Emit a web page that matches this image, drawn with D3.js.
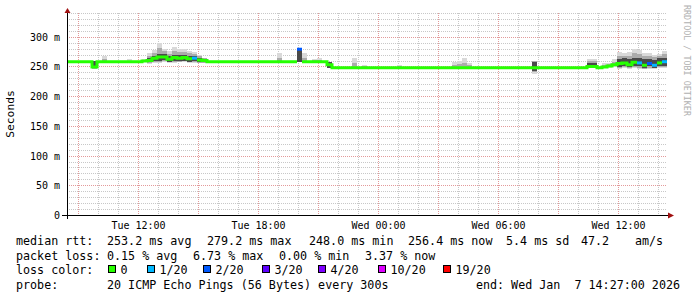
<!DOCTYPE html>
<html><head><meta charset="utf-8">
<script src="https://cdn.jsdelivr.net/npm/d3@7/dist/d3.min.js"></script>
<style>
body{margin:0;background:#fff}
svg{display:block}
text{font-family:"DejaVu Sans Mono",monospace}
</style>
</head><body>
<svg id="chart" width="697" height="297"></svg>
<script>
// ---- data (15-minute bins, starting Tue Jan 6 2026 08:27) ----
const startTime = "2026-01-06T08:27:00Z";
const stepMinutes = 15;

const median = [
  258,258,258,258,258,249,258,258,258,258,
  258,258,258,258,258,259,260,264,266,266,
  262,265,264,265,263,264,261,260,258,258,
  258,258,258,258,258,258,258,258,258,258,
  258,258,258,258,258,258,279,258,258,258,
  258,258,253,248,248,248,248,248,248,248,
  248,248,248,248,248,248,248,248,248,248,
  248,248,248,248,248,248,248,248,248,248,
  248,248,248,248,248,248,248,248,248,248,
  248,248,248,248,248,248,248,248,248,248,
  248,248,248,248,250,250,248,249,251,253,
  255,256,253,257,256,252,255,252,256,258
];
const lossCount = [
  0,0,0,0,0,0,0,0,0,0,
  0,0,0,0,0,0,0,0,0,0,
  0,0,0,0,0,1,0,0,0,0,
  0,0,0,0,0,0,0,0,0,0,
  0,0,0,0,0,0,2,0,0,0,
  0,0,0,0,0,0,0,0,0,0,
  0,0,0,0,0,0,0,0,0,0,
  0,0,0,0,0,0,0,0,0,0,
  0,0,0,0,0,0,0,0,0,0,
  0,0,0,0,0,0,0,0,0,0,
  0,0,0,0,0,0,0,0,0,0,
  0,0,0,0,1,0,2,1,0,1
];
const smokeMax = [
  260,258,258,258,258,259,258,267,258,258,
  258,258,262,258,258,262,272,278,290,280,
  276,282,279,280,276,275,270,265,260,258,
  258,258,258,258,258,258,258,258,258,258,
  258,258,272,260,258,258,281,272,258,263,
  264,258,258,248,248,248,248,264,248,252,
  248,248,248,248,248,248,252,248,248,248,
  248,248,248,248,248,248,248,258,260,264,
  256,248,248,248,248,248,248,248,248,248,
  248,248,248,260,248,248,248,248,248,248,
  248,248,248,248,262,262,250,256,256,262,
  274,272,274,280,278,272,273,270,271,276
];
const smokeMin = [
  258,258,258,258,258,246,258,258,258,258,
  258,258,258,258,258,257,255,256,256,257,
  256,256,257,257,256,256,256,256,258,258,
  258,258,258,258,258,258,258,258,258,258,
  258,258,258,258,258,258,257,258,258,258,
  258,258,248,248,248,248,248,248,248,248,
  248,248,248,248,248,248,248,248,248,248,
  248,248,248,248,248,248,248,248,248,248,
  248,248,248,248,248,248,248,248,248,248,
  248,248,248,238,248,248,248,248,248,248,
  248,248,248,248,247,247,248,248,248,249,
  246,247,246,247,246,245,246,246,247,247
];
const coreMax = [
  258,258,258,258,258,259,258,258,258,258,
  258,258,258,258,258,259,264,268,271,271,
  267,270,269,270,268,268,264,262,258,258,
  258,258,258,258,258,258,258,258,258,258,
  258,258,258,258,258,258,280,258,258,258,
  258,258,258,248,248,248,248,248,248,248,
  248,248,248,248,248,248,248,248,248,248,
  248,248,248,248,248,248,248,248,248,248,
  248,248,248,248,248,248,248,248,248,248,
  248,248,248,258,248,248,248,248,248,248,
  248,248,248,248,256,256,248,249,251,253,
  262,264,262,265,264,262,263,261,264,265
];
const coreMin = [
  258,258,258,258,258,247,258,258,258,258,
  258,258,258,258,258,259,257,259,260,261,
  258,260,259,260,258,259,257,257,258,258,
  258,258,258,258,258,258,258,258,258,258,
  258,258,258,258,258,258,258,258,258,258,
  258,258,248,248,248,248,248,248,248,248,
  248,248,248,248,248,248,248,248,248,248,
  248,248,248,248,248,248,248,248,248,248,
  248,248,248,248,248,248,248,248,248,248,
  248,248,248,242,248,248,248,248,248,248,
  248,248,248,248,248,248,248,249,251,253,
  249,250,249,251,250,248,250,248,250,251
];

const lossLevels = [0, 1, 2, 3, 4, 10, 19];
const lossLabels = ["0", "1/20", "2/20", "3/20", "4/20", "10/20", "19/20"];
const lossColors = ["#26ff00", "#00b8ff", "#0059ff", "#5e00ff", "#7e00ff", "#dd00ff", "#ff0000"];

const yTickValues = [0, 50, 100, 150, 200, 250, 300];
const yTickLabels = ["0", "50 m", "100 m", "150 m", "200 m", "250 m", "300 m"];
const yMax = 340;
const xTickTimes = ["2026-01-06T12:00:00Z", "2026-01-06T18:00:00Z", "2026-01-07T00:00:00Z", "2026-01-07T06:00:00Z", "2026-01-07T12:00:00Z"];
const xTickLabels = ["Tue 12:00", "Tue 18:00", "Wed 00:00", "Wed 06:00", "Wed 12:00"];

const yAxisTitle = "Seconds";
const rttItems = ["median rtt:", "253.2 ms avg", "279.2 ms max", "248.0 ms min", "256.4 ms now", "5.4 ms sd", "47.2", "am/s"];
const lossItems = ["packet loss:", "0.15 % avg", "6.73 % max", "0.00 % min", "3.37 % now"];
const legendColorTitle = "loss color:";
const probeItems = ["probe:", "20 ICMP Echo Pings (56 Bytes) every 300s"];
const legendEnd = "end: Wed Jan  7 14:27:00 2026";
const watermark = "RRDTOOL / TOBI OETIKER";

// ---- layout constants ----
const rttX = [16, 107, 207, 309, 408, 506, 581, 635];
const lossX = [16, 107, 193, 279, 365];
const boxX = [108, 147, 203, 262, 318, 378, 443];
const probeX = [16, 107];

// ---- drawing ----
const svg = d3.select("#chart");
const t0 = new Date(startTime);
const times = median.map((_, i) => d3.utcMinute.offset(t0, i * stepMinutes));
const tEnd = d3.utcMinute.offset(t0, median.length * stepMinutes);

const x = d3.scaleUtc().domain([t0, tEnd]).range([67, 667]);
const y = d3.scaleLinear().domain([0, yMax]).range([215, 13]);

const px = v => Math.round(v) + 0.5;

// grid
const grid = svg.append("g").attr("shape-rendering", "crispEdges");
const minorHours = d3.utcHour.every(1).range(t0, tEnd);
const majorHours = d3.utcHour.every(3).range(t0, tEnd);
const majorSet = new Set(majorHours.map(d => +d));
minorHours.filter(d => !majorSet.has(+d)).forEach(d => {
  grid.append("line").attr("x1", px(x(d))).attr("x2", px(x(d))).attr("y1", y(yMax)).attr("y2", y(0))
    .attr("stroke", "#c8c8c8").attr("stroke-dasharray", "1,1");
});
const minorMs = d3.range(10, yMax + 1, 10).filter(v => v % 50 !== 0);
minorMs.forEach(v => {
  grid.append("line").attr("x1", 67).attr("x2", 667).attr("y1", px(y(v))).attr("y2", px(y(v)))
    .attr("stroke", "#c8c8c8").attr("stroke-dasharray", "1,1");
});
majorHours.forEach(d => {
  grid.append("line").attr("x1", px(x(d))).attr("x2", px(x(d))).attr("y1", y(yMax)).attr("y2", y(0))
    .attr("stroke", "#e39a9a").attr("stroke-dasharray", "1,1");
});
yTickValues.filter(v => v > 0).forEach(v => {
  grid.append("line").attr("x1", 67).attr("x2", 667).attr("y1", px(y(v))).attr("y2", px(y(v)))
    .attr("stroke", "#e39a9a").attr("stroke-dasharray", "1,1");
});

// smoke
const smoke = svg.append("g").attr("shape-rendering", "crispEdges");
median.forEach((m, i) => {
  const xa = x(times[i]), xb = i + 1 < times.length ? x(times[i + 1]) : x(tEnd);
  if (smokeMax[i] > smokeMin[i]) {
    smoke.append("rect").attr("x", xa).attr("width", xb - xa)
      .attr("y", y(smokeMax[i])).attr("height", y(smokeMin[i]) - y(smokeMax[i])).attr("fill", "#d9d9d9");
    const midHi = (smokeMax[i] + coreMax[i]) / 2, midLo = (smokeMin[i] + coreMin[i]) / 2;
    smoke.append("rect").attr("x", xa).attr("width", xb - xa)
      .attr("y", y(midHi)).attr("height", y(midLo) - y(midHi)).attr("fill", "#ababab");
  }
  if (coreMax[i] > coreMin[i]) {
    smoke.append("rect").attr("x", xa).attr("width", xb - xa)
      .attr("y", y(coreMax[i])).attr("height", y(coreMin[i]) - y(coreMax[i])).attr("fill", "#4a4a4a");
  }
});

// median line, split into runs of equal loss colour
const colorFor = c => {
  let idx = 0;
  lossLevels.forEach((l, k) => { if (c >= l) idx = k; });
  return lossColors[idx];
};
const runs = [];
median.forEach((m, i) => {
  const col = colorFor(lossCount[i]);
  const last = runs[runs.length - 1];
  if (last && last.color === col) last.idx.push(i); else runs.push({color: col, idx: [i]});
});
const line = d3.line().x(d => x(d[0])).y(d => y(d[1])).curve(d3.curveStepAfter);
runs.forEach(r => {
  const pts = r.idx.map(i => [times[i], median[i]]);
  const li = r.idx[r.idx.length - 1];
  pts.push([li + 1 < times.length ? times[li + 1] : tEnd, median[li]]);
  svg.append("path").attr("d", line(pts)).attr("fill", "none").attr("stroke", r.color).attr("stroke-width", 3);
});

// axes
const axisColor = "#000";
svg.append("line").attr("x1", 62).attr("x2", 669).attr("y1", 215.5).attr("y2", 215.5).attr("stroke", axisColor);
svg.append("line").attr("x1", 67.5).attr("x2", 67.5).attr("y1", 219).attr("y2", 10).attr("stroke", axisColor);
svg.append("path").attr("d", "M64.5,13L70.5,13L67.5,8Z").attr("fill", "#a01010");
svg.append("path").attr("d", "M668,212.5L668,218.5L674,215.5Z").attr("fill", "#a01010");

const xAxis = d3.axisBottom(x).tickValues(xTickTimes.map(s => new Date(s)))
  .tickFormat((d, i) => xTickLabels[i]).tickSize(0).tickPadding(0);
const gx = svg.append("g").attr("transform", "translate(0,215)").call(xAxis);
gx.select(".domain").remove();
gx.selectAll("text").attr("y", 14).attr("dy", 0).attr("font-size", "10px").attr("fill", "#000")
  .attr("font-family", "DejaVu Sans Mono");

const yAxis = d3.axisLeft(y).tickValues(yTickValues).tickFormat((d, i) => yTickLabels[i]).tickSize(0).tickPadding(0);
const gy = svg.append("g").attr("transform", "translate(60,0)").call(yAxis);
gy.select(".domain").remove();
gy.selectAll("text").attr("x", 0).attr("dy", "0.35em").attr("font-size", "10px").attr("fill", "#000")
  .attr("font-family", "DejaVu Sans Mono");

svg.append("text").attr("transform", "translate(14,114) rotate(-90)").attr("text-anchor", "middle")
  .attr("font-size", "11.3px").attr("fill", "#000").text(yAxisTitle);

svg.append("text").attr("transform", "translate(684,5) rotate(90)").attr("font-size", "8.4px")
  .attr("fill", "#b0b0b0").text(watermark);

// legend
const lf = "11.7px";
const addText = (tx, ty, s, anchor) => svg.append("text").attr("x", tx).attr("y", ty).attr("font-size", lf)
  .attr("fill", "#000").attr("text-anchor", anchor || "start").style("white-space", "pre").text(s);
rttItems.forEach((s, k) => addText(rttX[k], 245, s));
lossItems.forEach((s, k) => addText(lossX[k], 259.5, s));
addText(16, 274, legendColorTitle);
lossLabels.forEach((lab, k) => {
  svg.append("rect").attr("x", boxX[k] + 0.5).attr("y", 265.5).attr("width", 7).attr("height", 7)
    .attr("fill", lossColors[k]).attr("stroke", "#000").attr("stroke-width", 1).attr("shape-rendering", "crispEdges");
  addText(boxX[k] + 12.5, 274, lab);
});
probeItems.forEach((s, k) => addText(probeX[k], 288.5, s));
addText(680, 288.5, legendEnd, "end");
</script>
</body></html>
